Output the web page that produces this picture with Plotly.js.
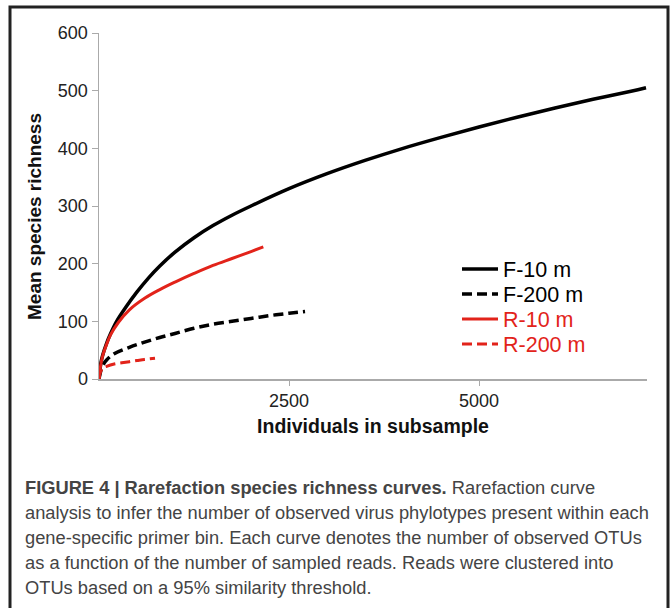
<!DOCTYPE html>
<html>
<head>
<meta charset="utf-8">
<script src="https://cdn.plot.ly/plotly-3.0.1.min.js"></script>
<style>
html,body{margin:0;padding:0;background:#fff;}
#chart{width:671px;height:608px;}
</style>
</head>
<body>
<div id="chart"></div>
<script>
// Rarefaction curves
const f10X = [0, 25, 50, 100, 150, 232, 350, 500, 650, 800, 1000, 1250, 1500, 1750, 2000, 2500, 3000, 3500, 4000, 4500, 5000, 5500, 6000, 6500, 7000, 7197];
const f10Y = [0, 28, 42, 62, 78, 100, 124, 151, 175, 196, 220, 245, 266, 284, 300, 330, 356, 379, 400, 419, 437, 454, 470, 485, 499, 505];

const f200X = [0, 25, 60, 100, 200, 400, 600, 800, 1000, 1250, 1500, 1750, 2000, 2250, 2500, 2711];
const f200Y = [0, 15, 26, 33, 44, 55, 64, 72, 79, 88, 95, 100, 105, 110, 114, 117];

const r10X = [0, 25, 50, 100, 150, 254, 400, 600, 800, 1000, 1250, 1500, 1750, 2000, 2162];
const r10Y = [0, 26, 41, 60, 76, 98, 120, 140, 155, 168, 183, 197, 209, 221, 229];

const r200X = [0, 20, 50, 100, 200, 300, 400, 500, 600, 737];
const r200Y = [0, 12, 19, 22, 26, 28, 30, 32, 34, 36];

const seriesNames = ["F-10 m", "F-200 m", "R-10 m", "R-200 m"];
const xTickVals = [2500, 5000];
const xTickText = ["2500", "5000"];
const yTickVals = [0, 100, 200, 300, 400, 500, 600];
const xTitle = "Individuals in subsample";
const yTitle = "Mean species richness";

const RED = "#e2231a";
const captionLines = [
  "<b>FIGURE 4 | Rarefaction species richness curves.</b> Rarefaction curve",
  "analysis to infer the number of observed virus phylotypes present within each",
  "gene-specific primer bin. Each curve denotes the number of observed OTUs",
  "as a function of the number of sampled reads. Reads were clustered into",
  "OTUs based on a 95% similarity threshold."
];

// plot area in pixels: x 99..647, y 33..379
const L = 99, R = 647, T = 33, B = 379;
const px = v => (v - L) / (R - L);
const py = v => (B - v) / (B - T);

const legendRows = [269, 294, 319, 344];
const legendIds = ["legend", "legend2", "legend3", "legend4"];

const traces = [
  {x: f10X, y: f10Y, name: seriesNames[0], legend: legendIds[0], mode: "lines", line: {color: "#000", width: 3.5, shape: "spline"}},
  {x: f200X, y: f200Y, name: seriesNames[1], legend: legendIds[1], mode: "lines", line: {color: "#000", width: 3.5, dash: "10px,5px", shape: "spline"}},
  {x: r10X, y: r10Y, name: '<span style="fill:' + RED + '">' + seriesNames[2] + '</span>', legend: legendIds[2], mode: "lines", line: {color: RED, width: 3, shape: "spline"}},
  {x: r200X, y: r200Y, name: '<span style="fill:' + RED + '">' + seriesNames[3] + '</span>', legend: legendIds[3], mode: "lines", line: {color: RED, width: 3, dash: "10px,5px", shape: "spline"}}
];

const annotations = captionLines.map((t, i) => ({
  text: t, xref: "paper", yref: "paper",
  x: px(23), y: py(487 + i * 25.2), xanchor: "left", yanchor: "middle",
  showarrow: false, align: "left",
  font: {family: "'Liberation Sans', Arial, sans-serif", size: 18.3, color: "#444"}
}));
annotations.push({
  text: "<b>" + yTitle + "</b>", xref: "paper", yref: "paper",
  x: px(35), y: py(217), xanchor: "center", yanchor: "middle", textangle: -90,
  showarrow: false, font: {size: 19, color: "#111"}
});

const layout = {
  width: 671, height: 608,
  margin: {l: L, r: 671 - R, t: T, b: 608 - B},
  paper_bgcolor: "#fff", plot_bgcolor: "#fff",
  font: {family: "'Liberation Sans', Arial, sans-serif", color: "#222", size: 18},
  showlegend: true,
  xaxis: {range: [0, 7210], tickvals: xTickVals, ticktext: xTickText, showgrid: false, zeroline: false,
          showline: true, linecolor: "#aaa", linewidth: 1.5, ticks: "outside", ticklen: 5, tickcolor: "#aaa",
          tickfont: {size: 18, color: "#222"},
          title: {text: "<b>" + xTitle + "</b>", font: {size: 19.5, color: "#111"}, standoff: 9}},
  yaxis: {range: [0, 600], tickvals: yTickVals, showgrid: false, zeroline: false,
          showline: true, linecolor: "#aaa", linewidth: 1.5, ticks: "outside", ticklen: 6, tickcolor: "#aaa",
          tickfont: {size: 18, color: "#222"}},
  shapes: [{type: "path", xref: "paper", yref: "paper",
            path: "M " + px(10) + "," + py(640) + " L " + px(10) + "," + py(7) + " L " + px(668) + "," + py(7) + " L " + px(668) + "," + py(640),
            line: {color: "#222", width: 3}}],
  annotations: annotations
};

legendIds.forEach((id, i) => {
  layout[id] = {x: px(457), y: py(legendRows[i]), xanchor: "left", yanchor: "middle",
                font: {size: 21.5, color: "#000"}, bgcolor: "rgba(0,0,0,0)", itemwidth: 36,
                borderwidth: 0};
});

Plotly.newPlot("chart", traces, layout, {displayModeBar: false, staticPlot: true});
</script>
</body>
</html>
